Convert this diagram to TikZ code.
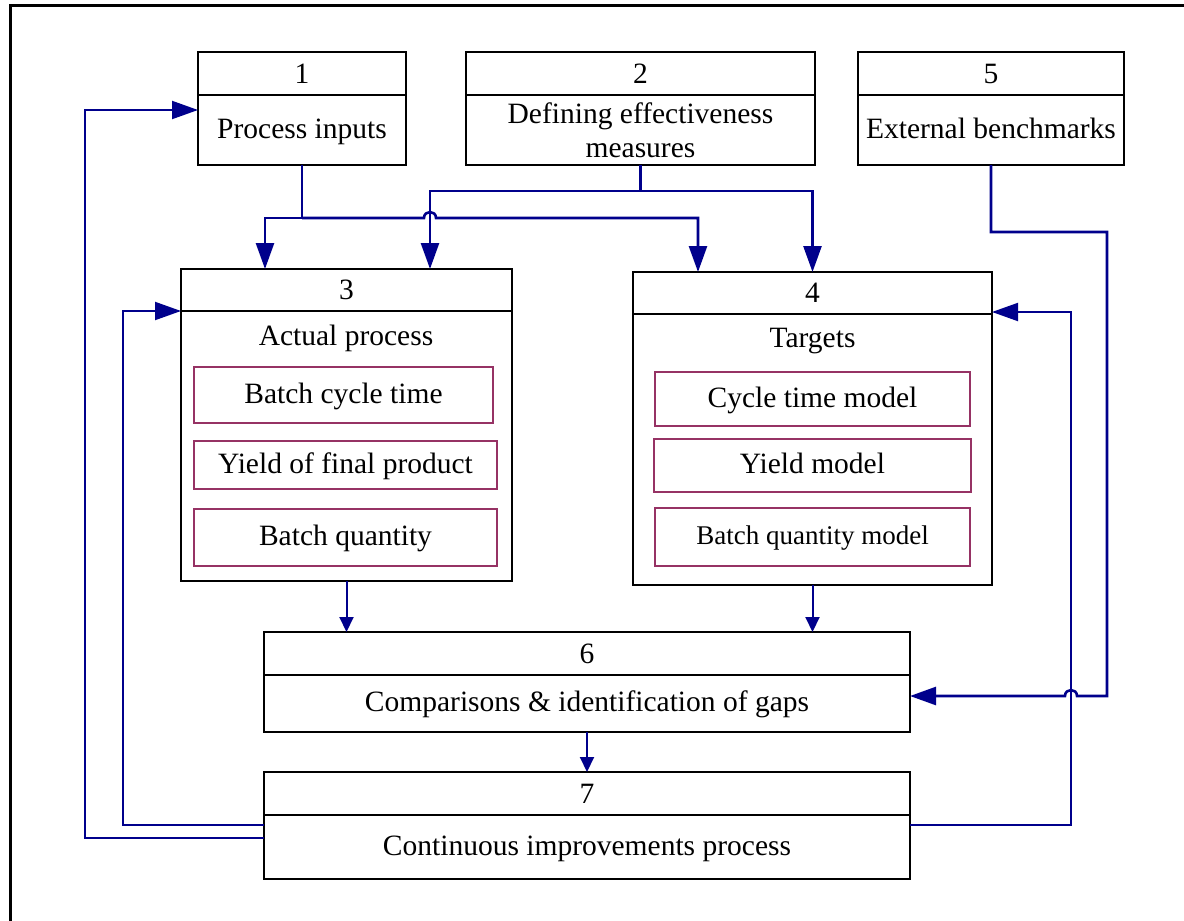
\documentclass[tikz,border=0pt]{standalone}
\usepackage{fontspec}
\setmainfont{Liberation Serif}
\usetikzlibrary{arrows.meta,calc}
\definecolor{navyc}{RGB}{0,0,140}
\definecolor{maroonc}{RGB}{150,50,100}
\begin{document}
\begin{tikzpicture}[x=1pt,y=-1pt, font=\fontsize{29.5}{34}\selectfont,
 box/.style={draw=black, line width=2.5pt, anchor=north west, inner sep=0pt, outer sep=0pt, align=center},
 line/.style={text height=22pt, text depth=6pt},
 sub/.style={draw=maroonc, line width=2.5pt, inner sep=0pt, outer sep=0pt, align=center, line},
 conn/.style={draw=navyc, line width=2.6pt},
 fb/.style={draw=navyc, line width=2pt},
 big/.style={-{Triangle[length=26pt,width=18pt]}},
 small/.style={-{Triangle[length=15pt,width=14pt]}},
]
\useasboundingbox (0,0) rectangle (1184,921);
\fill[white] (0,0) rectangle (1184,921);
\draw[line width=3pt] (10,921) -- (10,5) -- (1184,5);

% box 1
\node[box, minimum width=208pt, minimum height=43pt] (h1) at (198,52) {1};
\node[box, line, minimum width=208pt, minimum height=70pt] (b1) at (198,95) {Process inputs};
% box 2
\node[box, minimum width=349pt, minimum height=43pt] (h2) at (466,52) {2};
\node[box, minimum width=349pt, minimum height=70pt] (b2) at (466,95) {Defining effectiveness\\measures};
% box 5
\node[box, minimum width=266pt, minimum height=43pt] (h5) at (858,52) {5};
\node[box, line, minimum width=266pt, minimum height=70pt] (b5) at (858,95) {External benchmarks};
% box 3
\node[box, minimum width=331pt, minimum height=42pt] (h3) at (181,269) {3};
\node[box, minimum width=331pt, minimum height=270pt] (b3) at (181,311) {};
\node[line] (t3) at (346,337) {Actual process};
\node[sub, minimum width=299pt, minimum height=56pt] (s31) at (343.5,395) {Batch cycle time};
\node[sub, minimum width=303pt, minimum height=48pt] (s32) at (345.5,465) {Yield of final product};
\node[sub, minimum width=303pt, minimum height=57pt] (s33) at (345.5,537.5) {Batch quantity};
% box 4
\node[box, minimum width=359pt, minimum height=42pt] (h4) at (633,272) {4};
\node[box, minimum width=359pt, minimum height=271pt] (b4) at (633,314) {};
\node[line] (t4) at (812.5,339) {Targets};
\node[sub, minimum width=315pt, minimum height=54pt] (s41) at (812.5,399) {Cycle time model};
\node[sub, minimum width=317pt, minimum height=53pt] (s42) at (812.5,465.5) {Yield model};
\node[sub, minimum width=315pt, minimum height=58pt, text height=20pt, text depth=6pt] (s43) at (812.5,537) {\fontsize{27}{32}\selectfont Batch quantity model};
% box 6
\node[box, minimum width=646pt, minimum height=43pt] (h6) at (264,632) {6};
\node[box, line, minimum width=646pt, minimum height=57pt] (b6) at (264,675) {Comparisons \& identification of gaps};
% box 7
\node[box, minimum width=646pt, minimum height=43pt] (h7) at (264,772) {7};
\node[box, line, minimum width=646pt, minimum height=64pt] (b7) at (264,815) {Continuous improvements process};

% connectors from 1 and 2
\coordinate (j1) at (302,218);
\coordinate (j2) at (640.5,191);
\draw[conn] (b1.south) -- (j1);
\draw[conn, big] (j1) -| ([xshift=84pt]h3.north west);
\draw[conn, big] (j1) -- (424,218) .. controls (424,210) and (436,210) .. (436,218) -| ([xshift=65pt]h4.north west);
\draw[conn] (b2.south) -- (j2);
\draw[conn, big] (j2) -| ([xshift=249pt]h3.north west);
\draw[conn, big] (j2) -| (h4.north);

% from 5 to 6
\draw[conn, big] (b5.south) |- (1107,232) -- (1107,696) -- (1077,696) .. controls (1077,688) and (1065,688) .. (1065,696) -- ([yshift=7.5pt]b6.east);

% feedback from 7
\draw[fb, big] ([yshift=22pt]b7.east) -- (1071,825) -- (1071,312) -- ([yshift=2pt]b4.north east);
\draw[fb, big] ([yshift=22pt]b7.west) -- (123,825) -- (123,311) -- (b3.north west);
\draw[fb, big] ([yshift=9pt]b7.west) -- (85,838) -- (85,110) -- ([yshift=20pt]b1.west);

% small arrows
\draw[fb, small] (b3.south) -- (b3.south |- h6.north);
\draw[fb, small] (b4.south) -- (b4.south |- h6.north);
\draw[fb, small] (b6.south) -- (h7.north);
\end{tikzpicture}
\end{document}
